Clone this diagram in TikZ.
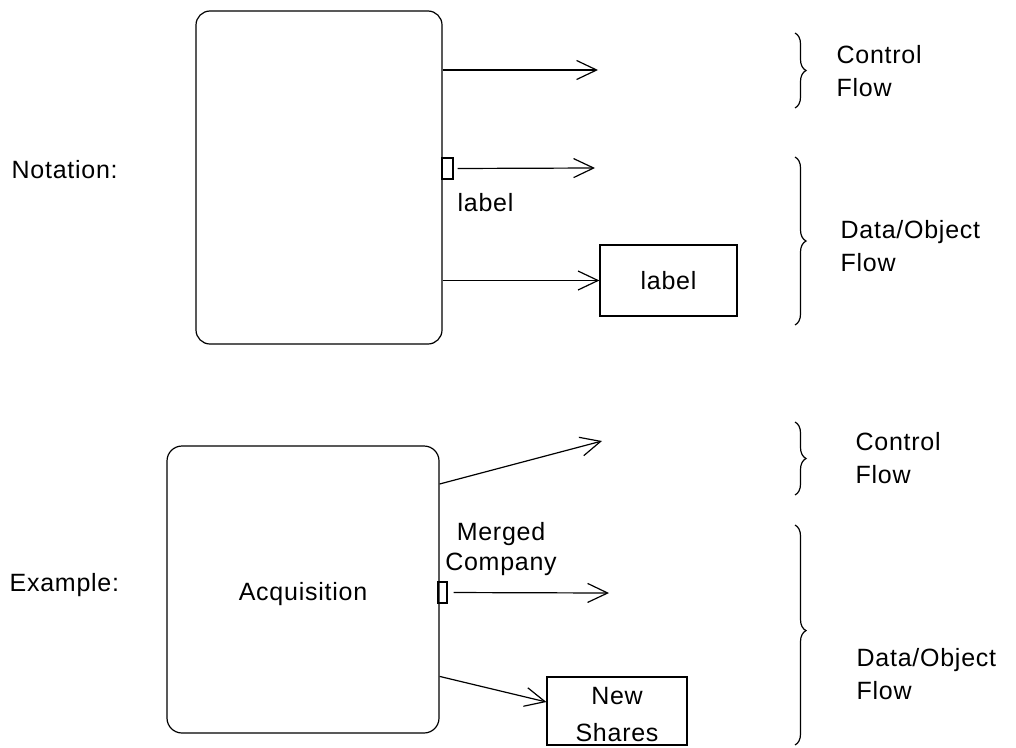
\documentclass[tikz,border=0pt]{standalone}
\usepackage{fontspec}
\setmainfont{Liberation Sans}[LetterSpace=3]
\usetikzlibrary{arrows.meta,decorations.pathreplacing}
\begin{document}
\begin{tikzpicture}[x=1pt,y=-1pt,line width=1.2pt,
  txt/.style={font=\fontsize{25}{33}\selectfont,inner sep=0pt},
  activity/.style={draw,rounded corners=14pt,inner sep=0pt,font=\fontsize{25}{33}\selectfont},
  obj/.style={draw,inner sep=0pt,align=center,font=\fontsize{25}{37}\selectfont},
  pinbox/.style={draw,inner sep=0pt,minimum height=21pt},
  arr/.style={-{Straight Barb[length=20pt,width=19pt]}},
  brc/.style={decorate,decoration={brace,amplitude=11pt}}]
\useasboundingbox (0,0) rectangle (1016,747);

% ---------- Notation ----------
\node[txt,anchor=base west] (nt) at (11,178) {Notation:};
\node[activity,minimum width=246pt,minimum height=333pt] (n1) at (319,177.5) {};
\node[pinbox,minimum width=11pt] (p1) at (447.5,168.5) {};
\node[obj,minimum width=137pt,minimum height=71pt] (o1) at (668.5,280.5) {label};
\node[txt,anchor=base west] (l1) at (457,211) {label};
\coordinate (e1) at (598,70);
\coordinate (e2) at (595,168);
\draw[arr] (n1.east |- e1) -- (e1);
\draw[arr,shorten <=4pt] (p1.east) -- (e2);
\draw[arr] (n1.east |- o1.west) -- (o1.west);

\draw[brc] (795,33) -- (795,108);
\draw[brc] (795,157) -- (795,325);
\node[txt,anchor=north west,align=left] (cf1) at (836,45) {Control\\Flow};
\node[txt,anchor=north west,align=left] (df1) at (840,220) {Data/Object\\Flow};

% ---------- Example ----------
\node[txt,anchor=base west] (ex) at (9,591) {Example:};
\node[activity,rounded corners=15pt,minimum width=272pt,minimum height=287pt,
      text height=21pt,text depth=0pt] (n2) at (303,589.5) {Acquisition};
\node[pinbox,minimum width=9pt] (p2) at (442.5,592.5) {};
\node[draw,inner sep=0pt,font=\fontsize{25}{37}\selectfont,minimum width=140pt,minimum height=68pt] (o2) at (617,711)
  {\raisebox{-5pt}[31pt][19pt]{\begin{tabular}{@{}c@{}}New\\Shares\end{tabular}}};
\node[txt,anchor=north,align=center,font=\fontsize{25}{30}\selectfont] (mc) at (501,522) {Merged\\Company};
\coordinate (s3) at (0,484);
\coordinate (e3) at (602,441);
\coordinate (e4) at (609,593);
\draw[arr] (n2.east |- s3) -- (e3);
\draw[arr,shorten <=6pt] (p2.east) -- (e4);
\draw[arr] (n2.east |- o2.north) -- ([yshift=9pt]o2.west);

\draw[brc] (795,422) -- (795,495);
\draw[brc,decoration={brace,amplitude=11pt,aspect=0.48}] (795,525) -- (795,745);
\node[txt,anchor=north west,align=left] (cf2) at (855,432) {Control\\Flow};
\node[txt,anchor=north west,align=left] (df2) at (856,648) {Data/Object\\Flow};
\end{tikzpicture}
\end{document}
